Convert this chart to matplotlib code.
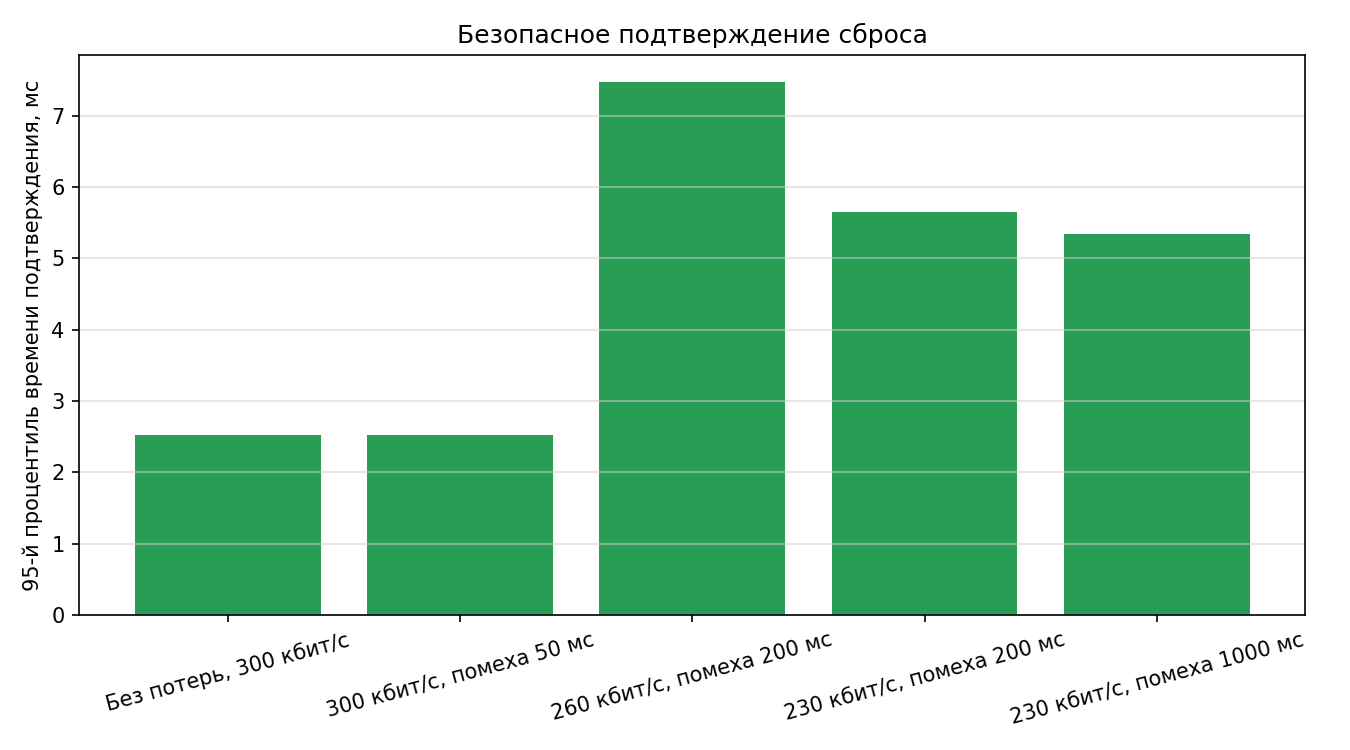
import matplotlib
matplotlib.use("Agg")
import matplotlib.pyplot as plt

# Data
categories = [
    "Без потерь, 300 кбит/с",
    "300 кбит/с, помеха 50 мс",
    "260 кбит/с, помеха 200 мс",
    "230 кбит/с, помеха 200 мс",
    "230 кбит/с, помеха 1000 мс",
]
p95_ms = [2.53, 2.53, 7.475, 5.657, 5.347]

fig, ax = plt.subplots(figsize=(9, 5), dpi=150)

ax.bar(categories, p95_ms, width=0.8, color="#2a9d55")

ax.set_title("Безопасное подтверждение сброса")
ax.set_ylabel("95-й процентиль времени подтверждения, мс")
ax.grid(axis="y", color="#d0d0d0", alpha=0.5, linewidth=1)

plt.setp(ax.get_xticklabels(), rotation=15, ha="center")

plt.tight_layout()
plt.savefig("out.png", dpi=150)
